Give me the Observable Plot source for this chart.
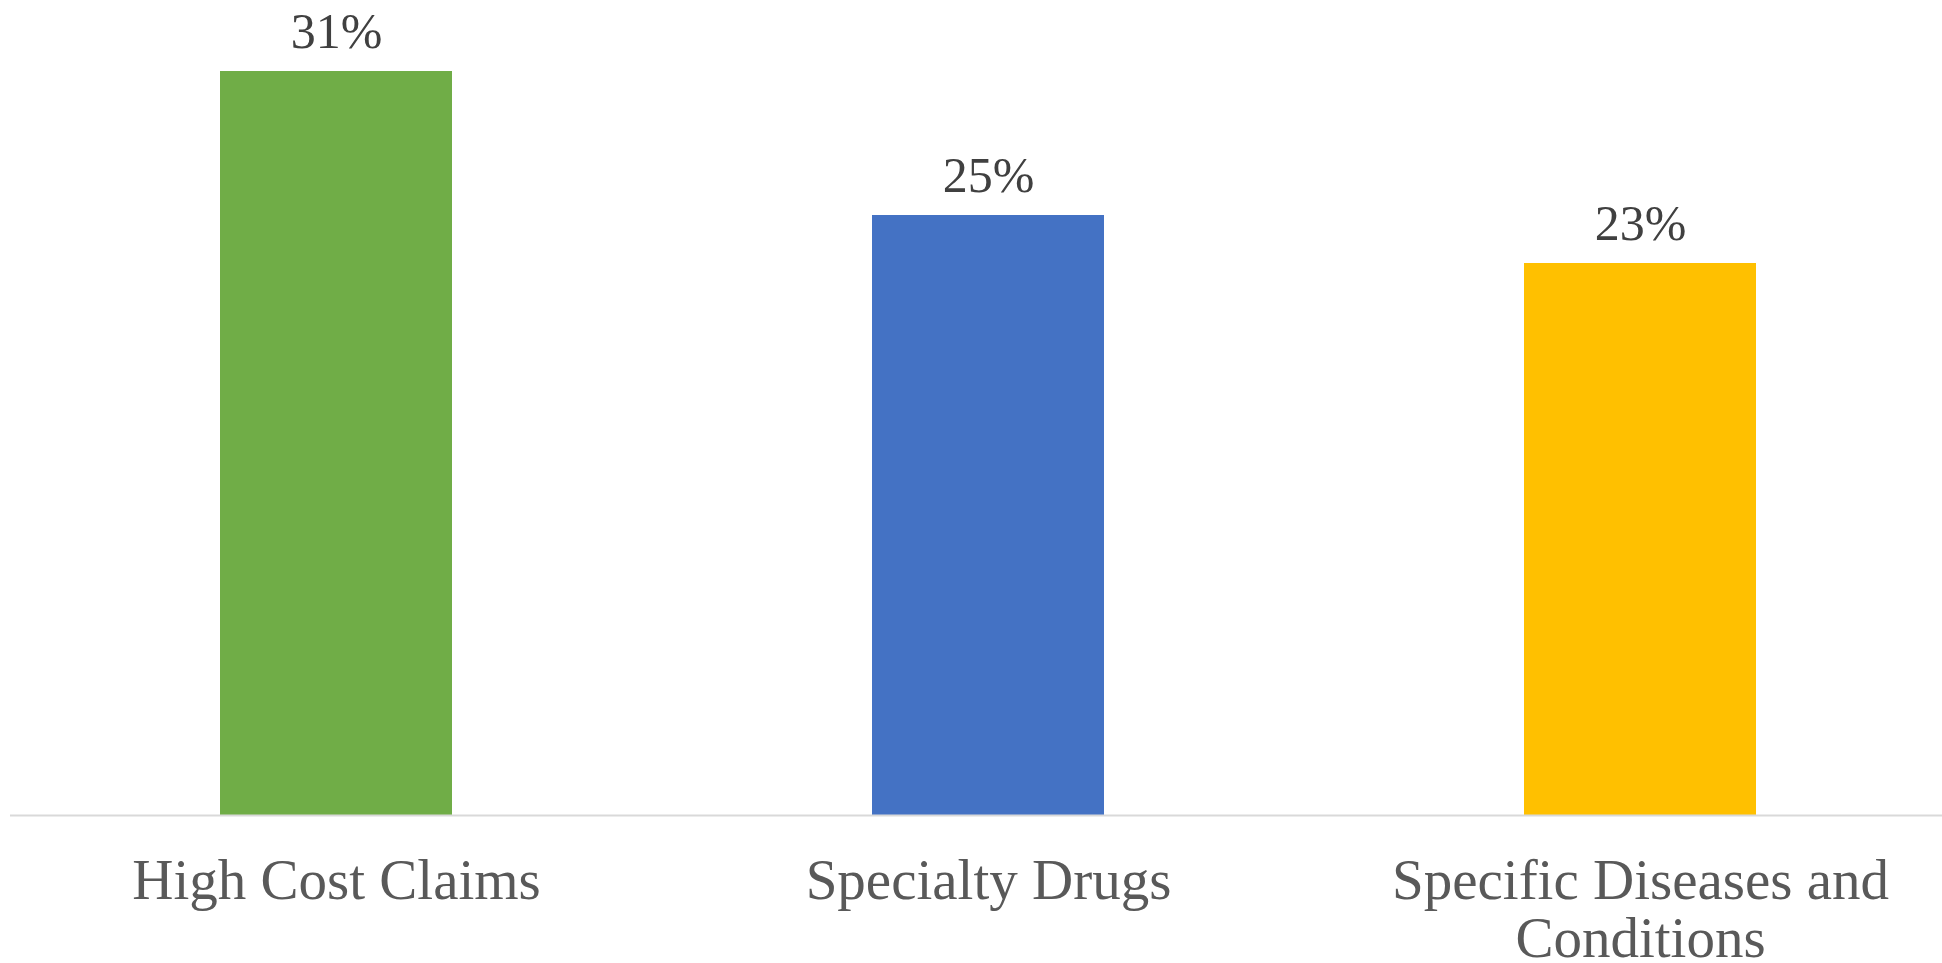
<!DOCTYPE html>
<html>
<head>
<meta charset="utf-8">
<script src="https://cdn.jsdelivr.net/npm/d3@7"></script>
<script src="https://cdn.jsdelivr.net/npm/@observablehq/plot@0.6"></script>
<style>
  html, body { margin: 0; padding: 0; background: #ffffff; }
  #chart svg { display: block; }
</style>
</head>
<body>
<div id="chart"></div>
<script>
// Share of respondents citing each cost driver
const categories = ["High Cost Claims", "Specialty Drugs", "Specific Diseases and Conditions"];
const values = [31, 25, 23];
const valueLabels = ["31%", "25%", "23%"];
const tickLabels = ["High Cost Claims", "Specialty Drugs", "Specific Diseases and\nConditions"];
const barColors = ["#70AD47", "#4472C4", "#FFC000"];

const data = categories.map((c, i) => ({category: c, value: values[i], label: valueLabels[i]}));
const tickText = new Map(categories.map((c, i) => [c, tickLabels[i]]));

const W = 1942, H = 963;
const serif = "'Liberation Serif', 'DejaVu Serif', serif";

const chart = Plot.plot({
  width: W,
  height: H,
  marginLeft: 10,
  marginRight: 0,
  marginTop: 71,
  marginBottom: 148,
  style: {fontFamily: serif, background: "#ffffff", overflow: "visible"},
  x: {domain: categories, range: [10, 1966], paddingInner: 0.644, paddingOuter: 0.322},
  y: {domain: [0, 31], axis: null},
  color: {domain: categories, range: barColors},
  marks: [
    Plot.barY(data, {x: "category", y: "value", fill: "category"}),
    Plot.ruleY([0], {stroke: "#d9d9d9", strokeWidth: 2}),
    Plot.text(data, {
      x: "category", y: "value", text: "label",
      dy: -24, lineAnchor: "bottom", textAnchor: "middle",
      fontSize: 50, fill: "#404040"
    }),
    Plot.axisX({
      tickSize: 0, tickPadding: 42, fontSize: 57,
      tickFormat: (d) => tickText.get(d), lineHeight: 1.02,
      fill: "#595959", label: null
    })
  ]
});

document.getElementById("chart").appendChild(chart);
</script>
</body>
</html>
